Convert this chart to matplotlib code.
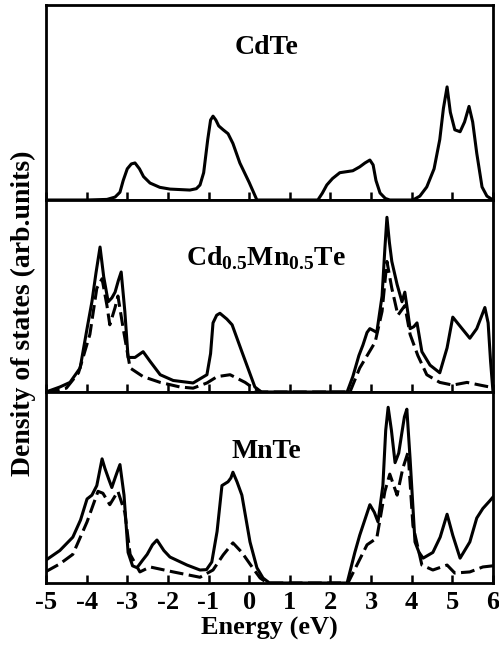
import matplotlib
matplotlib.use("Agg")
import matplotlib.pyplot as plt

# ---- data (energy in eV, DOS in arbitrary units) ----
cdte_x = [-5.0, -4.0, -3.5, -3.3, -3.18, -3.1, -3.0, -2.9, -2.81, -2.7, -2.6, -2.44, -2.2,
          -1.95, -1.46, -1.3, -1.21, -1.12, -1.02, -0.95, -0.89, -0.82, -0.75, -0.64, -0.52,
          -0.40, -0.23, 0.0, 0.19, 0.4, 1.0, 1.69, 1.8, 1.91, 2.05, 2.23, 2.55, 2.72, 2.85,
          2.97, 3.05, 3.12, 3.22, 3.35, 3.46, 4.03, 4.2, 4.37, 4.55, 4.69, 4.78, 4.87, 4.95,
          5.06, 5.19, 5.30, 5.41, 5.5, 5.6, 5.73, 5.85, 6.0]
cdte_y = [0.0, 0.0, 0.003, 0.015, 0.04, 0.10, 0.16, 0.185, 0.19, 0.16, 0.12, 0.087, 0.065,
          0.056, 0.051, 0.058, 0.077, 0.14, 0.31, 0.41, 0.43, 0.41, 0.38, 0.36, 0.34,
          0.29, 0.19, 0.09, 0.0, 0.0, 0.0, 0.0, 0.035, 0.077, 0.11, 0.14, 0.15, 0.17, 0.19,
          0.205, 0.18, 0.10, 0.036, 0.008, 0.0, 0.0, 0.02, 0.067, 0.16, 0.31, 0.47, 0.58, 0.45,
          0.36, 0.35, 0.40, 0.48, 0.40, 0.24, 0.067, 0.02, 0.0]

cmt_x = [-5.0, -4.66, -4.41, -4.16, -3.99, -3.87, -3.77, -3.67, -3.58, -3.47, -3.38, -3.30,
         -3.22, -3.15, -3.06, -2.98, -2.81, -2.61, -2.44, -2.19, -1.87, -1.38, -1.04, -0.95,
         -0.89, -0.8, -0.72, -0.55, -0.42, -0.18, 0.14, 0.3, 1.0, 2.41, 2.55, 2.7, 2.8, 2.9,
         2.97, 3.06, 3.14, 3.27, 3.34, 3.39, 3.45, 3.51, 3.64, 3.76, 3.83, 3.9, 3.96, 4.05,
         4.13, 4.25, 4.45, 4.69, 4.87, 5.01, 5.2, 5.43, 5.6, 5.80, 5.88, 5.94, 6.0]
cmt_y = [0.0, 0.026, 0.05, 0.125, 0.33, 0.47, 0.62, 0.755, 0.6, 0.47, 0.49, 0.52,
         0.58, 0.625, 0.42, 0.18, 0.18, 0.21, 0.16, 0.09, 0.06, 0.047, 0.09, 0.2,
         0.36, 0.40, 0.41, 0.38, 0.35, 0.21, 0.026, 0.0, 0.0, 0.0, 0.08, 0.19, 0.245, 0.31,
         0.33, 0.32, 0.31, 0.5, 0.75, 0.91, 0.78, 0.68, 0.56, 0.47, 0.52, 0.42, 0.33, 0.34,
         0.36, 0.21, 0.14, 0.10, 0.23, 0.39, 0.34, 0.28, 0.33, 0.44, 0.36, 0.16, 0.0]

cmt_d_x = [-5.0, -4.5, -4.2, -3.92, -3.75, -3.62, -3.5, -3.43, -3.3, -3.23, -3.10, -2.93,
           -2.61, -2.19, -1.70, -1.38, -1.04, -0.79, -0.47, -0.10, 0.1, 0.3, 1.0, 2.48, 2.72,
           3.1, 3.27, 3.39, 3.51, 3.66, 3.83, 3.96, 4.15, 4.37, 4.69, 5.01, 5.36, 5.68, 5.92,
           6.0]
cmt_d_y = [0.0, 0.02, 0.1, 0.30, 0.54, 0.59, 0.45, 0.35, 0.44, 0.50, 0.33, 0.125,
           0.08, 0.05, 0.026, 0.02, 0.047, 0.08, 0.09, 0.05, 0.02, 0.0, 0.0, 0.0, 0.125,
           0.26, 0.42, 0.68, 0.54, 0.40, 0.45, 0.30, 0.19, 0.09, 0.05, 0.036, 0.05, 0.036,
           0.026, 0.02]

mnte_x = [-5.0, -4.66, -4.34, -4.15, -3.99, -3.87, -3.75, -3.62, -3.55, -3.45, -3.38, -3.30,
          -3.25, -3.18, -3.08, -2.98, -2.87, -2.76, -2.62, -2.51, -2.38, -2.27, -2.1, -1.95,
          -1.53, -1.21, -1.05, -0.92, -0.79, -0.67, -0.52, -0.45, -0.40, -0.3, -0.18, 0.02,
          0.19, 0.34, 0.5, 1.0, 2.41, 2.6, 2.72, 2.97, 3.08, 3.17, 3.29, 3.36, 3.42, 3.5,
          3.59, 3.68, 3.76, 3.82, 3.88, 3.96, 4.08, 4.18, 4.28, 4.52, 4.7, 4.87, 5.01, 5.19,
          5.43, 5.6, 5.75, 5.92, 6.0]
mnte_y = [0.12, 0.17, 0.24, 0.33, 0.44, 0.46, 0.51, 0.65, 0.60, 0.54, 0.50, 0.55,
          0.58, 0.62, 0.46, 0.16, 0.09, 0.08, 0.12, 0.15, 0.2, 0.225, 0.17, 0.136,
          0.094, 0.068, 0.07, 0.11, 0.27, 0.51, 0.53, 0.55, 0.58, 0.53, 0.46, 0.215,
          0.08, 0.026, 0.0, 0.0, 0.0, 0.16, 0.25, 0.41, 0.37, 0.32, 0.51, 0.8, 0.92, 0.8,
          0.63, 0.68, 0.79, 0.87, 0.91, 0.65, 0.215, 0.16, 0.13, 0.16, 0.24, 0.36, 0.25, 0.13,
          0.215, 0.34, 0.39, 0.43, 0.45]

mnte_d_x = [-5.0, -4.66, -4.34, -3.99, -3.72, -3.60, -3.43, -3.23, -3.06, -2.93, -2.69, -2.44,
            -1.87, -1.21, -0.89, -0.64, -0.40, -0.18, 0.07, 0.27, 0.45, 1.0, 2.43, 2.90, 3.14,
            3.34, 3.46, 3.64, 3.78, 3.91, 4.03, 4.25, 4.52, 4.87, 5.06, 5.43, 5.75, 6.0]
mnte_d_y = [0.06, 0.10, 0.15, 0.32, 0.48, 0.47, 0.41, 0.48, 0.37, 0.15, 0.058, 0.084,
            0.058, 0.03, 0.068, 0.147, 0.21, 0.16, 0.084, 0.026, 0.0, 0.0, 0.0, 0.2, 0.235,
            0.48, 0.57, 0.46, 0.6, 0.685, 0.30, 0.094, 0.068, 0.094, 0.052, 0.058, 0.084, 0.09]

labels = ["CdTe", r"Cd$_{\mathbf{0.5}}$Mn$_{\mathbf{0.5}}$Te", "MnTe"]
xticks = [-5, -4, -3, -2, -1, 0, 1, 2, 3, 4, 5, 6]

plt.rcParams['font.family'] = ['Liberation Serif', 'DejaVu Serif']
plt.rcParams['font.weight'] = 'bold'
plt.rcParams['mathtext.fontset'] = 'custom'
plt.rcParams['mathtext.rm'] = 'Liberation Serif:bold'
plt.rcParams['mathtext.bf'] = 'Liberation Serif:bold'

fig = plt.figure(figsize=(4.99, 6.54), dpi=100)
gs = fig.add_gridspec(3, 1, height_ratios=[195, 192, 191], hspace=0,
                      left=46/499, right=493/499, bottom=1-583/654, top=1-5/654)
axes = [fig.add_subplot(gs[i]) for i in range(3)]

lw = 2.2
dash = (0, (4.5, 1.8))
axes[0].plot(cdte_x, cdte_y, color='black', lw=lw, solid_joinstyle='round')
axes[1].plot(cmt_x, cmt_y, color='black', lw=lw, solid_joinstyle='round')
axes[1].plot(cmt_d_x, cmt_d_y, color='black', lw=lw, linestyle=dash)
axes[2].plot(mnte_x, mnte_y, color='black', lw=lw, solid_joinstyle='round')
axes[2].plot(mnte_d_x, mnte_d_y, color='black', lw=lw, linestyle=dash)

label_y = [0.78, 0.70, 0.69]
for ax, lab, ly in zip(axes, labels, label_y):
    ax.set_xlim(-5, 6)
    ax.set_ylim(0, 1)
    ax.set_yticks([])
    ax.set_xticks(xticks)
    ax.tick_params(axis='x', direction='in', length=6, width=1.8, top=False)
    for s in ax.spines.values():
        s.set_linewidth(2.0)
    ax.text(0.493, ly, lab, transform=ax.transAxes, ha='center', va='center',
            fontsize=20, fontweight='bold')

for ax in axes[:2]:
    ax.tick_params(axis='x', labelbottom=False)

axes[2].set_xticklabels([str(t) for t in xticks], fontsize=19, fontweight='bold')
axes[2].tick_params(axis='x', pad=6)
axes[2].set_xlabel("Energy (eV)", fontsize=19, fontweight='bold', labelpad=2)

fig.text(23/499, 1-313/654, "Density of states (arb.units)", rotation=90,
         ha='center', va='center', fontsize=20, fontweight='bold')

fig.savefig("out.png", dpi=100)
